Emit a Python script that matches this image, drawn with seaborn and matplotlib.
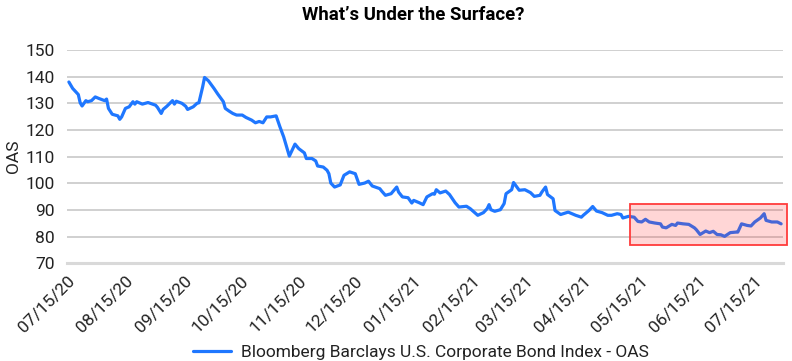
import pandas as pd
import matplotlib
matplotlib.use("Agg")
import matplotlib.pyplot as plt
import matplotlib.dates as mdates
from matplotlib.patches import Rectangle
import seaborn as sns

# OAS readings (one row per month)
dates = [
    "2020-07-16", "2020-07-18", "2020-07-21", "2020-07-22", "2020-07-23", "2020-07-25", "2020-07-26", "2020-07-28", "2020-07-30",
    "2020-08-01", "2020-08-04", "2020-08-05", "2020-08-06", "2020-08-08", "2020-08-11", "2020-08-12", "2020-08-13", "2020-08-15", "2020-08-17", "2020-08-19", "2020-08-20", "2020-08-21", "2020-08-24", "2020-08-27", "2020-08-31",
    "2020-09-01", "2020-09-03", "2020-09-04", "2020-09-06", "2020-09-09", "2020-09-10", "2020-09-11", "2020-09-14", "2020-09-16", "2020-09-17", "2020-09-20", "2020-09-22", "2020-09-23", "2020-09-25", "2020-09-26", "2020-09-28",
    "2020-10-01", "2020-10-03", "2020-10-06", "2020-10-07", "2020-10-09", "2020-10-11", "2020-10-13", "2020-10-16", "2020-10-18", "2020-10-21", "2020-10-23", "2020-10-25", "2020-10-27", "2020-10-29", "2020-10-31",
    "2020-11-03", "2020-11-05", "2020-11-07", "2020-11-10", "2020-11-13", "2020-11-15", "2020-11-18", "2020-11-19", "2020-11-22", "2020-11-24", "2020-11-25", "2020-11-28", "2020-11-30",
    "2020-12-01", "2020-12-02", "2020-12-04", "2020-12-07", "2020-12-09", "2020-12-12", "2020-12-15", "2020-12-17", "2020-12-20", "2020-12-22", "2020-12-24", "2020-12-28", "2020-12-29", "2020-12-31",
    "2021-01-03", "2021-01-06", "2021-01-07", "2021-01-09", "2021-01-12", "2021-01-14", "2021-01-15", "2021-01-18", "2021-01-20", "2021-01-22", "2021-01-25", "2021-01-26", "2021-01-27", "2021-01-29",
    "2021-02-01", "2021-02-03", "2021-02-06", "2021-02-08", "2021-02-12", "2021-02-14", "2021-02-18", "2021-02-21", "2021-02-23", "2021-02-24", "2021-02-25", "2021-02-27",
    "2021-03-02", "2021-03-04", "2021-03-05", "2021-03-08", "2021-03-09", "2021-03-12", "2021-03-15", "2021-03-18", "2021-03-20", "2021-03-23", "2021-03-24", "2021-03-26", "2021-03-27", "2021-03-30", "2021-03-31",
    "2021-04-03", "2021-04-07", "2021-04-11", "2021-04-14", "2021-04-15", "2021-04-18", "2021-04-20", "2021-04-22", "2021-04-25", "2021-04-28", "2021-04-30",
    "2021-05-03", "2021-05-05", "2021-05-06", "2021-05-09", "2021-05-12", "2021-05-14", "2021-05-16", "2021-05-18", "2021-05-20", "2021-05-23", "2021-05-26", "2021-05-27", "2021-05-29",
    "2021-06-01", "2021-06-03", "2021-06-04", "2021-06-07", "2021-06-10", "2021-06-13", "2021-06-14", "2021-06-16", "2021-06-19", "2021-06-21", "2021-06-23", "2021-06-25", "2021-06-27", "2021-06-29",
    "2021-07-02", "2021-07-05", "2021-07-06", "2021-07-08", "2021-07-11", "2021-07-13", "2021-07-15", "2021-07-18", "2021-07-20", "2021-07-21", "2021-07-24", "2021-07-27", "2021-07-29",
]
oas = [
    138.0, 135.6, 133.3, 130.2, 129.0, 131.0, 130.6, 131.0, 132.4,
    131.8, 131.0, 131.6, 128.1, 125.9, 125.3, 124.0, 124.9, 128.1, 128.7, 130.6, 129.7, 130.6, 129.7, 130.3, 129.3,
    128.5, 126.2, 127.7, 128.9, 131.0, 129.7, 130.8, 130.0, 128.9, 127.7, 128.7, 130.0, 130.2, 136.2, 139.7, 138.5,
    135.6, 133.5, 130.6, 128.1, 127.1, 126.2, 125.6, 125.6, 124.7, 123.7, 122.7, 123.2, 122.7, 124.9, 124.9,
    125.3, 121.2, 117.4, 110.2, 114.7, 113.0, 111.4, 109.3, 109.3, 108.4, 106.5, 106.1, 104.9,
    103.6, 100.1, 98.6, 99.4, 103.0, 104.3, 103.6, 99.6, 100.1, 100.8, 99.0, 98.0, 97.1, 95.5,
    96.1, 98.6, 96.7, 94.9, 94.6, 92.6, 93.6, 92.7, 92.0, 94.9, 96.1, 95.9, 97.6, 96.4,
    97.1, 95.8, 92.7, 91.1, 91.4, 90.5, 88.0, 89.0, 90.5, 92.0, 90.1, 89.5,
    90.1, 92.4, 96.1, 97.6, 100.3, 97.4, 97.6, 96.5, 95.1, 95.5, 96.7, 98.6, 95.8, 94.2, 89.8,
    88.3, 89.2, 88.0, 87.3, 88.0, 89.8, 91.3, 89.6, 89.0, 88.0, 88.0,
    88.6, 88.3, 87.0, 87.6, 87.3, 85.7, 85.5, 86.5, 85.5, 85.1, 84.8, 83.6, 83.3,
    84.6, 84.2, 85.1, 84.8, 84.6, 83.3, 82.6, 80.8, 82.1, 81.5, 82.0, 80.8, 80.7, 80.1,
    81.5, 81.7, 81.7, 84.8, 84.2, 84.0, 85.5, 87.0, 88.6, 86.1, 85.5, 85.5, 84.8,
]
tick_dates = ["2020-07-15", "2020-08-15", "2020-09-15", "2020-10-15", "2020-11-15", "2020-12-15",
              "2021-01-15", "2021-02-15", "2021-03-15", "2021-04-15", "2021-05-15", "2021-06-15", "2021-07-15"]
y_ticks = [70, 80, 90, 100, 110, 120, 130, 140, 150]
series_name = "Bloomberg Barclays U.S. Corporate Bond Index - OAS"

# highlighted window (dates + OAS band)
box_start, box_end = "2021-05-10", "2021-08-01"
box_low, box_high = 76.7, 92.1

df = pd.DataFrame({"date": pd.to_datetime(dates), "OAS": oas})
df["series"] = series_name

sns.set_style("white")
plt.rcParams["font.family"] = ["Roboto", "DejaVu Sans"]

fig = plt.figure(figsize=(7.92, 3.61), dpi=100)
ax = fig.add_axes([67 / 792, 1 - 263.3 / 361, 716 / 792, 213.3 / 361])

sns.lineplot(data=df, x="date", y="OAS", hue="series", palette=["#1f77ff"],
             linewidth=2.3, ax=ax, legend=False, zorder=3)

ax.set_ylim(70, 150)
ax.set_xlim(pd.Timestamp("2020-07-15"), pd.Timestamp("2021-07-30"))
ax.set_yticks(y_ticks)
ax.set_xticks(pd.to_datetime(tick_dates))
ax.xaxis.set_major_formatter(mdates.DateFormatter("%m/%d/%y"))

ax.grid(axis="y", color="#c4c4c4", linewidth=1.1, zorder=0)
ax.grid(axis="x", visible=False)
for s in ["top", "right", "left"]:
    ax.spines[s].set_visible(False)
ax.spines["bottom"].set_color("#d9d9d9")
ax.spines["bottom"].set_linewidth(2.2)

ax.tick_params(axis="y", length=0, pad=9, labelsize=12.5, labelcolor="#222222")
ax.tick_params(axis="x", length=5, width=1, color="#cccccc", pad=2,
               labelsize=12.5, labelcolor="#222222")
for lbl in ax.get_xticklabels():
    lbl.set_rotation(45)
    lbl.set_ha("right")
    lbl.set_rotation_mode("anchor")

ax.set_xlabel("")
ax.set_ylabel("OAS", fontsize=12.5, color="#222222", labelpad=3)

# red highlight box over the recent window
x0 = mdates.date2num(pd.Timestamp(box_start))
x1 = mdates.date2num(pd.Timestamp(box_end))
ax.add_patch(Rectangle((x0, box_low), x1 - x0, box_high - box_low,
                       facecolor="#ff2020", alpha=0.18, edgecolor="none",
                       clip_on=False, zorder=4))
ax.add_patch(Rectangle((x0, box_low), x1 - x0, box_high - box_low,
                       facecolor="none", edgecolor="#ff3b3b", linewidth=1.3,
                       clip_on=False, zorder=5))

fig.text(413.5 / 792, 1 - 15 / 361, "What\u2019s Under the Surface?",
         ha="center", va="center", fontsize=13.4, fontweight="bold", color="black")

handle = plt.Line2D([], [], color="#1f77ff", linewidth=2.3)
fig.legend([handle], [series_name], loc="center", bbox_to_anchor=(421 / 792, 1 - 352.7 / 361),
           frameon=False, fontsize=12.5, handlelength=2.2, handletextpad=0.6,
           labelcolor="#222222")

fig.savefig("out.png", dpi=100)
